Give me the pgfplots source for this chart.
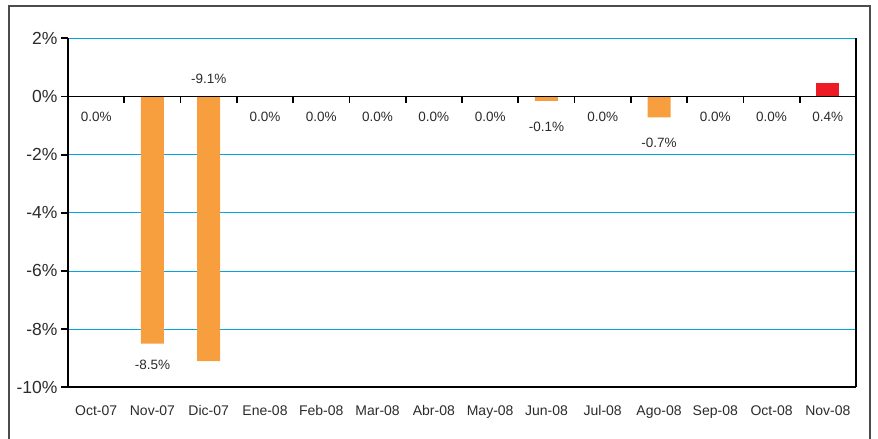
\documentclass[border=0pt]{standalone}
\usepackage{pgfplots}
\pgfplotsset{compat=1.18}
\usepackage{fontspec}
\setmainfont{Liberation Sans}
\definecolor{barorange}{HTML}{F79E3F}
\definecolor{barred}{HTML}{ED1C24}
\definecolor{gridblue}{HTML}{00A6E2}
\definecolor{txt}{HTML}{2B2B2B}
\begin{document}
\begin{tikzpicture}[x=1pt,y=1pt]
\useasboundingbox (0,0) rectangle (878,439);
\draw[color=black!70, line width=1.3pt] (9,-2) -- (9,433) -- (870,433) -- (870,-2);
\begin{axis}[
  at={(68pt,51.7pt)}, anchor=south west,
  scale only axis, width=788pt, height=349pt,
  xmin=0, xmax=14, ymin=-10, ymax=2,
  axis x line=bottom, axis y line=box,
  axis line style={-, black, line width=1.8pt},
  xtick={0.5,1.5,...,13.5},
  xticklabels={Oct-07,Nov-07,Dic-07,Ene-08,Feb-08,Mar-08,Abr-08,May-08,Jun-08,Jul-08,Ago-08,Sep-08,Oct-08,Nov-08},
  x tick style={draw=none}, major x tick style={draw=none},
  xticklabel style={font=\fontsize{14}{16}\selectfont, text=txt, yshift=-8pt},
  ytick={-10,-8,...,2},
  yticklabels={-10\%,-8\%,-6\%,-4\%,-2\%,0\%,2\%},
  ytick pos=left,
  y tick style={black, line width=1.8pt},
  tick align=outside, major tick length=7pt,
  yticklabel style={font=\fontsize{17.5}{19}\selectfont, text=txt},
  ymajorgrids, major grid style={gridblue, line width=0.9pt},
  clip=false,
]
\addplot[ybar, bar width=23pt, bar shift=0pt, fill=barorange, draw=none]
  coordinates {(0.5,0) (1.5,-8.5) (2.5,-9.1) (3.5,0) (4.5,0) (5.5,0) (6.5,0) (7.5,0) (8.5,-0.15) (9.5,0) (10.5,-0.72) (11.5,0) (12.5,0)};
\addplot[ybar, bar width=23pt, bar shift=0pt, fill=barred, draw=none]
  coordinates {(13.5,0.45)};
\draw[black, line width=1.8pt] (axis cs:0,0) -- (axis cs:14,0);
\pgfplotsinvokeforeach{1,...,13}{\draw[black, line width=1.8pt] (axis cs:#1,0) -- ([yshift=-7pt]axis cs:#1,0);}
\addplot[draw=none, mark=none, nodes near coords, point meta=explicit symbolic,
  nodes near coords style={anchor=center, font=\fontsize{13.5}{15}\selectfont, text=txt}]
  coordinates {
  (0.5,-0.69) [0.0\%]
  (1.5,-9.23) [-8.5\%]
  (2.5,0.6) [-9.1\%]
  (3.5,-0.69) [0.0\%]
  (4.5,-0.69) [0.0\%]
  (5.5,-0.69) [0.0\%]
  (6.5,-0.69) [0.0\%]
  (7.5,-0.69) [0.0\%]
  (8.5,-1.05) [-0.1\%]
  (9.5,-0.69) [0.0\%]
  (10.5,-1.59) [-0.7\%]
  (11.5,-0.69) [0.0\%]
  (12.5,-0.69) [0.0\%]
  (13.5,-0.69) [0.4\%]
  };
\end{axis}
\end{tikzpicture}
\end{document}
